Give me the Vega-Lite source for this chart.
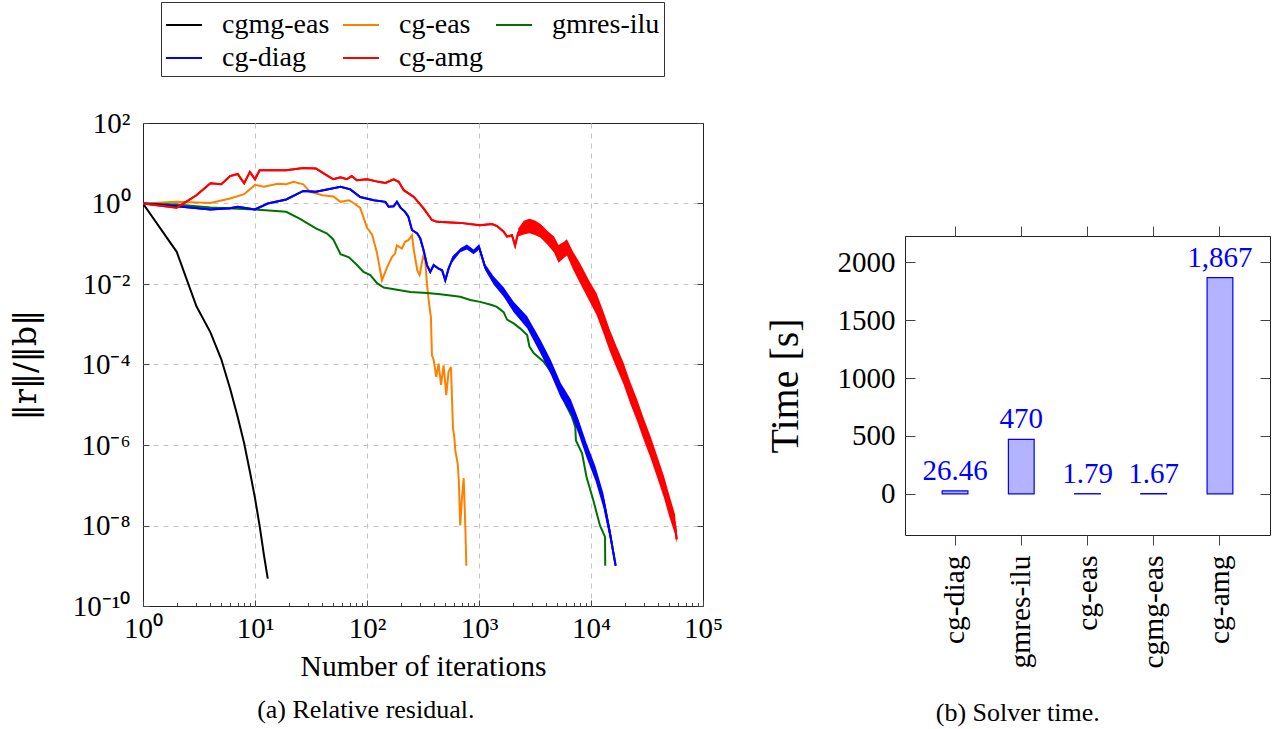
{
  "$schema": "https://vega.github.io/schema/vega-lite/v6.json",
  "autosize": {"type": "none"},
  "padding": {"left": 143, "top": 123, "right": 1142, "bottom": 606},
  "background": "white",
  "spacing": 202,
  "bounds": "flush",
  "config": {
    "font": "Liberation Serif",
    "view": {"stroke": "#222", "strokeWidth": 1},
    "axis": {"labelFont": "Liberation Serif", "titleFont": "Liberation Serif", "labelColor": "#000", "titleColor": "#000", "titleFontWeight": "normal", "domain": false, "tickColor": "#444", "tickWidth": 1, "gridColor": "#c4c4c4", "gridDash": [5, 5], "gridWidth": 1},
    "title": {"font": "Liberation Serif", "fontWeight": "normal", "color": "#000", "fontSize": 26},
    "legend": {"labelFont": "Liberation Serif", "labelColor": "#000"}
  },
  "datasets": {
    "res": [
      {"s":"cgmg-eas","it":1,"r":1},{"s":"cgmg-eas","it":2,"r":0.063},{"s":"cgmg-eas","it":3,"r":0.0028},{"s":"cgmg-eas","it":4,"r":6.3e-4},{"s":"cgmg-eas","it":5,"r":1.35e-4},{"s":"cgmg-eas","it":6,"r":2.5e-5},{"s":"cgmg-eas","it":7,"r":5e-6},{"s":"cgmg-eas","it":8,"r":1.1e-6},{"s":"cgmg-eas","it":9,"r":2.2e-7},{"s":"cgmg-eas","it":10,"r":4.8e-8},{"s":"cgmg-eas","it":11,"r":9.8e-9},{"s":"cgmg-eas","it":12,"r":1.9e-9},{"s":"cgmg-eas","it":13,"r":4.8e-10},
      {"s":"cg-eas","it":1,"r":1},{"s":"cg-eas","it":2,"r":1.1},{"s":"cg-eas","it":4,"r":1.03},{"s":"cg-eas","it":6,"r":1.33},{"s":"cg-eas","it":8,"r":1.7},{"s":"cg-eas","it":10,"r":2.9},{"s":"cg-eas","it":12,"r":2.6},{"s":"cg-eas","it":16,"r":3.1},{"s":"cg-eas","it":19,"r":3.0},{"s":"cg-eas","it":22,"r":3.45},{"s":"cg-eas","it":27,"r":3.0},{"s":"cg-eas","it":31,"r":1.95},{"s":"cg-eas","it":40,"r":1.6},{"s":"cg-eas","it":50,"r":1.5},{"s":"cg-eas","it":58,"r":1.1},{"s":"cg-eas","it":69,"r":1.2},{"s":"cg-eas","it":76,"r":1.03},{"s":"cg-eas","it":87,"r":0.78},{"s":"cg-eas","it":100,"r":0.25},{"s":"cg-eas","it":111,"r":0.17},{"s":"cg-eas","it":123,"r":0.058},{"s":"cg-eas","it":136,"r":0.0124},{"s":"cg-eas","it":151,"r":0.026},{"s":"cg-eas","it":167,"r":0.047},{"s":"cg-eas","it":178,"r":0.057},{"s":"cg-eas","it":185,"r":0.091},{"s":"cg-eas","it":205,"r":0.076},{"s":"cg-eas","it":219,"r":0.112},{"s":"cg-eas","it":234,"r":0.123},{"s":"cg-eas","it":252,"r":0.162},{"s":"cg-eas","it":262,"r":0.069},{"s":"cg-eas","it":281,"r":0.022},{"s":"cg-eas","it":295,"r":0.0166},{"s":"cg-eas","it":316,"r":0.047},{"s":"cg-eas","it":331,"r":0.039},{"s":"cg-eas","it":343,"r":0.0102},{"s":"cg-eas","it":355,"r":0.004},{"s":"cg-eas","it":372,"r":0.0015},{"s":"cg-eas","it":380,"r":1.7e-4},{"s":"cg-eas","it":394,"r":1.3e-4},{"s":"cg-eas","it":415,"r":4.9e-5},{"s":"cg-eas","it":436,"r":1.05e-4},{"s":"cg-eas","it":458,"r":3.1e-5},{"s":"cg-eas","it":483,"r":9.5e-5},{"s":"cg-eas","it":510,"r":1.74e-5},{"s":"cg-eas","it":535,"r":6.6e-5},{"s":"cg-eas","it":562,"r":8.7e-5},{"s":"cg-eas","it":586,"r":2.6e-6},{"s":"cg-eas","it":602,"r":1.6e-6},{"s":"cg-eas","it":614,"r":7.4e-7},{"s":"cg-eas","it":645,"r":3.5e-7},{"s":"cg-eas","it":660,"r":1.35e-7},{"s":"cg-eas","it":680,"r":1.0e-8},{"s":"cg-eas","it":705,"r":5.1e-8},{"s":"cg-eas","it":730,"r":1.5e-7},{"s":"cg-eas","it":755,"r":9.3e-9},{"s":"cg-eas","it":771,"r":1e-9},
      {"s":"gmres-ilu","it":1,"r":1},{"s":"gmres-ilu","it":2,"r":0.94},{"s":"gmres-ilu","it":4,"r":0.8},{"s":"gmres-ilu","it":10,"r":0.71},{"s":"gmres-ilu","it":19,"r":0.62},{"s":"gmres-ilu","it":25,"r":0.42},{"s":"gmres-ilu","it":35,"r":0.24},{"s":"gmres-ilu","it":44,"r":0.18},{"s":"gmres-ilu","it":50,"r":0.128},{"s":"gmres-ilu","it":58,"r":0.055},{"s":"gmres-ilu","it":69,"r":0.046},{"s":"gmres-ilu","it":81,"r":0.03},{"s":"gmres-ilu","it":93,"r":0.02},{"s":"gmres-ilu","it":107,"r":0.0166},{"s":"gmres-ilu","it":123,"r":0.0105},{"s":"gmres-ilu","it":141,"r":0.0082},{"s":"gmres-ilu","it":244,"r":0.0063},{"s":"gmres-ilu","it":344,"r":0.006},{"s":"gmres-ilu","it":452,"r":0.0056},{"s":"gmres-ilu","it":680,"r":0.0048},{"s":"gmres-ilu","it":835,"r":0.004},{"s":"gmres-ilu","it":1025,"r":0.0036},{"s":"gmres-ilu","it":1300,"r":0.003},{"s":"gmres-ilu","it":1445,"r":0.0027},{"s":"gmres-ilu","it":1660,"r":0.002},{"s":"gmres-ilu","it":1780,"r":0.0013},{"s":"gmres-ilu","it":2040,"r":0.00105},{"s":"gmres-ilu","it":2340,"r":0.00078},{"s":"gmres-ilu","it":2690,"r":0.00054},{"s":"gmres-ilu","it":2820,"r":0.00028},{"s":"gmres-ilu","it":3090,"r":0.00019},{"s":"gmres-ilu","it":3800,"r":1.15e-4},{"s":"gmres-ilu","it":5000,"r":4.1e-5},{"s":"gmres-ilu","it":5890,"r":1.07e-5},{"s":"gmres-ilu","it":6760,"r":5e-6},{"s":"gmres-ilu","it":7240,"r":2.8e-6},{"s":"gmres-ilu","it":7330,"r":1.3e-6},{"s":"gmres-ilu","it":8320,"r":6.2e-7},{"s":"gmres-ilu","it":9120,"r":1.6e-7},{"s":"gmres-ilu","it":10470,"r":4.3e-8},{"s":"gmres-ilu","it":12020,"r":1.0e-8},{"s":"gmres-ilu","it":13340,"r":5.2e-9},{"s":"gmres-ilu","it":13400,"r":1e-9},
      {"s":"cg-diag","it":1,"r":1},{"s":"cg-diag","it":2,"r":0.85},{"s":"cg-diag","it":4,"r":0.71},{"s":"cg-diag","it":6,"r":0.76},{"s":"cg-diag","it":7,"r":0.83},{"s":"cg-diag","it":10,"r":0.71},{"s":"cg-diag","it":13,"r":1.0},{"s":"cg-diag","it":19,"r":1.26},{"s":"cg-diag","it":27,"r":2.05},{"s":"cg-diag","it":35,"r":1.95},{"s":"cg-diag","it":44,"r":2.24},{"s":"cg-diag","it":58,"r":2.6},{"s":"cg-diag","it":71,"r":2.24},{"s":"cg-diag","it":87,"r":1.45},{"s":"cg-diag","it":115,"r":1.2},{"s":"cg-diag","it":146,"r":1.1},{"s":"cg-diag","it":156,"r":0.83},{"s":"cg-diag","it":173,"r":0.85},{"s":"cg-diag","it":185,"r":1.1},{"s":"cg-diag","it":199,"r":0.79},{"s":"cg-diag","it":219,"r":0.62},{"s":"cg-diag","it":234,"r":0.47},{"s":"cg-diag","it":252,"r":0.22},{"s":"cg-diag","it":281,"r":0.18},{"s":"cg-diag","it":299,"r":0.135},{"s":"cg-diag","it":320,"r":0.069},{"s":"cg-diag","it":343,"r":0.0295},{"s":"cg-diag","it":367,"r":0.02},{"s":"cg-diag","it":394,"r":0.0295},{"s":"cg-diag","it":436,"r":0.024},{"s":"cg-diag","it":468,"r":0.022},{"s":"cg-diag","it":500,"r":0.0123},{"s":"cg-diag","it":535,"r":0.024},{"s":"cg-diag","it":590,"r":0.047},{"s":"cg-diag","it":680,"r":0.069},{"s":"cg-diag","it":780,"r":0.083},{"s":"cg-diag","it":895,"r":0.063},{"s":"cg-diag","it":1000,"r":0.083},{"s":"cg-diag","it":1135,"r":0.026},{"s":"cg-diag","it":1350,"r":0.0123},{"s":"cg-diag","it":1660,"r":0.0063},{"s":"cg-diag","it":2040,"r":0.0027},{"s":"cg-diag","it":2340,"r":0.002},{"s":"cg-diag","it":2690,"r":0.00112},{"s":"cg-diag","it":2880,"r":8.5e-4},{"s":"cg-diag","it":3550,"r":2.75e-4},{"s":"cg-diag","it":4370,"r":8.7e-5},{"s":"cg-diag","it":5370,"r":2.3e-5},{"s":"cg-diag","it":6610,"r":8.9e-6},{"s":"cg-diag","it":7760,"r":2.8e-6},{"s":"cg-diag","it":9120,"r":7.4e-7},{"s":"cg-diag","it":10960,"r":1.95e-7},{"s":"cg-diag","it":12880,"r":4.3e-8},{"s":"cg-diag","it":14790,"r":6.3e-9},{"s":"cg-diag","it":16600,"r":1e-9},
      {"s":"cg-amg","it":1,"r":1},{"s":"cg-amg","it":2,"r":0.79},{"s":"cg-amg","it":3,"r":1.6},{"s":"cg-amg","it":4,"r":3.2},{"s":"cg-amg","it":5,"r":3.0},{"s":"cg-amg","it":6,"r":4.8},{"s":"cg-amg","it":7,"r":5.4},{"s":"cg-amg","it":8,"r":3.16},{"s":"cg-amg","it":9,"r":6.1},{"s":"cg-amg","it":10,"r":4.0},{"s":"cg-amg","it":11,"r":6.7},{"s":"cg-amg","it":19,"r":6.7},{"s":"cg-amg","it":27,"r":7.6},{"s":"cg-amg","it":35,"r":7.4},{"s":"cg-amg","it":41,"r":5.6},{"s":"cg-amg","it":50,"r":4.0},{"s":"cg-amg","it":58,"r":4.5},{"s":"cg-amg","it":66,"r":4.0},{"s":"cg-amg","it":73,"r":4.8},{"s":"cg-amg","it":81,"r":3.8},{"s":"cg-amg","it":100,"r":4.0},{"s":"cg-amg","it":127,"r":3.45},{"s":"cg-amg","it":146,"r":3.25},{"s":"cg-amg","it":173,"r":4.0},{"s":"cg-amg","it":192,"r":3.45},{"s":"cg-amg","it":213,"r":2.14},{"s":"cg-amg","it":262,"r":1.46},{"s":"cg-amg","it":320,"r":0.76},{"s":"cg-amg","it":380,"r":0.39},{"s":"cg-amg","it":422,"r":0.35},{"s":"cg-amg","it":680,"r":0.33},{"s":"cg-amg","it":1020,"r":0.29},{"s":"cg-amg","it":1306,"r":0.31},{"s":"cg-amg","it":1450,"r":0.275},{"s":"cg-amg","it":1660,"r":0.2},{"s":"cg-amg","it":1780,"r":0.15},{"s":"cg-amg","it":1970,"r":0.163},{"s":"cg-amg","it":2100,"r":0.09},{"s":"cg-amg","it":2240,"r":0.19},{"s":"cg-amg","it":2512,"r":0.25},{"s":"cg-amg","it":2818,"r":0.275},{"s":"cg-amg","it":3162,"r":0.25},{"s":"cg-amg","it":3548,"r":0.21},{"s":"cg-amg","it":4074,"r":0.141},{"s":"cg-amg","it":4677,"r":0.095},{"s":"cg-amg","it":5129,"r":0.056},{"s":"cg-amg","it":5690,"r":0.069},{"s":"cg-amg","it":6095,"r":0.081},{"s":"cg-amg","it":6918,"r":0.038},{"s":"cg-amg","it":7943,"r":0.019},{"s":"cg-amg","it":9772,"r":0.0063},{"s":"cg-amg","it":11220,"r":0.0032},{"s":"cg-amg","it":12880,"r":0.00112},{"s":"cg-amg","it":14790,"r":3.8e-4},{"s":"cg-amg","it":16980,"r":1.48e-4},{"s":"cg-amg","it":19500,"r":6.0e-5},{"s":"cg-amg","it":22390,"r":2.0e-5},{"s":"cg-amg","it":25700,"r":7.6e-6},{"s":"cg-amg","it":29510,"r":2.5e-6},{"s":"cg-amg","it":33880,"r":9.1e-7},{"s":"cg-amg","it":38900,"r":2.95e-7},{"s":"cg-amg","it":44670,"r":9.3e-8},{"s":"cg-amg","it":50120,"r":3.0e-8},{"s":"cg-amg","it":56230,"r":1.07e-8},{"s":"cg-amg","it":58210,"r":4.5e-9}
    ],
    "band": [
      {"s":"cg-diag","it":562,"r":0.0313,"r2":0.0359},{"s":"cg-diag","it":680,"r":0.0617,"r2":0.0776},{"s":"cg-diag","it":780,"r":0.0724,"r2":0.0955},{"s":"cg-diag","it":895,"r":0.055,"r2":0.0724},{"s":"cg-diag","it":1000,"r":0.0708,"r2":0.0977},{"s":"cg-diag","it":1135,"r":0.0219,"r2":0.0316},{"s":"cg-diag","it":1350,"r":0.00977,"r2":0.0155},{"s":"cg-diag","it":1660,"r":0.00479,"r2":0.00832},{"s":"cg-diag","it":2040,"r":0.002,"r2":0.00363},{"s":"cg-diag","it":2690,"r":7.94e-4,"r2":1.585e-3},{"s":"cg-diag","it":3550,"r":1.86e-4,"r2":4.07e-4},{"s":"cg-diag","it":4370,"r":5.75e-5,"r2":1.32e-4},{"s":"cg-diag","it":5370,"r":1.51e-5,"r2":3.47e-5},{"s":"cg-diag","it":6610,"r":5.89e-6,"r2":1.35e-5},{"s":"cg-diag","it":7760,"r":1.86e-6,"r2":4.27e-6},{"s":"cg-diag","it":9120,"r":4.9e-7,"r2":1.12e-6},{"s":"cg-diag","it":10960,"r":1.29e-7,"r2":2.95e-7},{"s":"cg-diag","it":12880,"r":2.82e-8,"r2":6.46e-8},{"s":"cg-diag","it":14790,"r":4.47e-9,"r2":8.9e-9},{"s":"cg-diag","it":16220,"r":1.12e-9,"r2":1.78e-9},
      {"s":"cg-amg","it":2240,"r":0.151,"r2":0.24},{"s":"cg-amg","it":2512,"r":0.17,"r2":0.372},{"s":"cg-amg","it":2818,"r":0.182,"r2":0.417},{"s":"cg-amg","it":3162,"r":0.166,"r2":0.38},{"s":"cg-amg","it":3548,"r":0.141,"r2":0.309},{"s":"cg-amg","it":4074,"r":0.0955,"r2":0.209},{"s":"cg-amg","it":4677,"r":0.0603,"r2":0.151},{"s":"cg-amg","it":5129,"r":0.0339,"r2":0.0933},{"s":"cg-amg","it":5690,"r":0.0437,"r2":0.11},{"s":"cg-amg","it":6095,"r":0.0513,"r2":0.129},{"s":"cg-amg","it":6918,"r":0.0229,"r2":0.063},{"s":"cg-amg","it":7943,"r":0.0107,"r2":0.0339},{"s":"cg-amg","it":9772,"r":0.00355,"r2":0.0112},{"s":"cg-amg","it":11220,"r":0.0017,"r2":0.00589},{"s":"cg-amg","it":12880,"r":6.03e-4,"r2":2.09e-3},{"s":"cg-amg","it":14790,"r":2.04e-4,"r2":7.08e-4},{"s":"cg-amg","it":16980,"r":7.94e-5,"r2":2.75e-4},{"s":"cg-amg","it":19500,"r":3.24e-5,"r2":1.12e-4},{"s":"cg-amg","it":22390,"r":1.07e-5,"r2":3.72e-5},{"s":"cg-amg","it":25700,"r":4.07e-6,"r2":1.41e-5},{"s":"cg-amg","it":29510,"r":1.35e-6,"r2":4.68e-6},{"s":"cg-amg","it":33880,"r":4.9e-7,"r2":1.7e-6},{"s":"cg-amg","it":38900,"r":1.58e-7,"r2":5.5e-7},{"s":"cg-amg","it":44670,"r":5.0e-8,"r2":1.74e-7},{"s":"cg-amg","it":50120,"r":1.62e-8,"r2":5.62e-8},{"s":"cg-amg","it":56230,"r":6.03e-9,"r2":1.9e-8},{"s":"cg-amg","it":58210,"r":3.55e-9,"r2":5.62e-9}
    ],
    "time": [
      {"solver":"cg-diag","t":26.46},{"solver":"gmres-ilu","t":470},{"solver":"cg-eas","t":1.79},{"solver":"cgmg-eas","t":1.67},{"solver":"cg-amg","t":1867}
    ]
  },
  "hconcat": [
    {
      "width": 560,
      "height": 483,
      "title": {"text": "(a) Relative residual.", "orient": "bottom", "frame": "bounds", "anchor": "middle", "offset": 16},
      "data": {"name": "res"},
      "encoding": {
        "color": {
          "field": "s", "type": "nominal",
          "scale": {"domain": ["cgmg-eas", "cg-eas", "gmres-ilu", "cg-diag", "cg-amg"], "range": ["#000000", "#ff8000", "#007000", "#0000ff", "#ff0000"]},
          "legend": {"orient": "none", "legendX": 18, "legendY": -121, "direction": "horizontal", "columns": 3, "title": null, "strokeColor": "#333", "fillColor": "white", "padding": 4, "symbolType": "stroke", "symbolSize": 1296, "symbolStrokeWidth": 2, "labelFont": "Liberation Serif", "labelFontSize": 28, "labelOffset": 19, "columnPadding": 9, "rowPadding": -7, "labelLimit": 0}
        }
      },
      "layer": [
        {
          "mark": {"type": "line", "strokeWidth": 2, "clip": true},
          "encoding": {
            "x": {
              "field": "it", "type": "quantitative",
              "scale": {"type": "log", "domain": [1, 100000], "nice": false},
              "axis": {
                "orient": "bottom",
                "title": "Number of iterations", "titleFont": "Liberation Serif", "titleFontSize": 29.5, "titleY": 69, "titleBaseline": "alphabetic",
                "values": [1,2,3,4,5,6,7,8,9,10,20,30,40,50,60,70,80,90,100,200,300,400,500,600,700,800,900,1000,2000,3000,4000,5000,6000,7000,8000,9000,10000,20000,30000,40000,50000,60000,70000,80000,90000,100000],
                "labelExpr": "abs(log(datum.value)/LN10 - round(log(datum.value)/LN10)) > 0.001 ? '' : datum.value < 5 ? '10⁰' : datum.value < 50 ? '10¹' : datum.value < 500 ? '10²' : datum.value < 5000 ? '10³' : datum.value < 50000 ? '10⁴' : '10⁵'",
                "labelFont": "Liberation Serif", "labelFontSize": 29, "labelPadding": 8, "labelFlush": false, "labelOverlap": false,
                "ticks": false,
                "grid": true,
                "gridOpacity": {"condition": {"test": "abs(log(datum.value)/LN10 - round(log(datum.value)/LN10)) < 0.001 && datum.value > 1.5 && datum.value < 50000", "value": 1}, "value": 0}
              }
            },
            "y": {
              "field": "r", "type": "quantitative",
              "scale": {"type": "log", "domain": [1e-10, 100], "nice": false},
              "axis": {
                "orient": "left",
                "title": "‖r‖/‖b‖", "titleFont": "DejaVu Serif", "titleFontSize": 32, "titleX": -108, "titleBaseline": "alphabetic",
                "values": [100, 1, 0.01, 0.0001, 0.000001, 0.00000001, 0.0000000001],
                "labelExpr": "datum.value > 10 ? '10²' : datum.value > 0.1 ? '10⁰' : datum.value > 1e-3 ? '10⁻²' : datum.value > 1e-5 ? '10⁻⁴' : datum.value > 1e-7 ? '10⁻⁶' : datum.value > 1e-9 ? '10⁻⁸' : '10⁻¹⁰'",
                "labelFont": "Liberation Serif", "labelFontSize": 29, "labelPadding": 13,
                "ticks": false,
                "grid": true,
                "gridOpacity": {"condition": {"test": "datum.value < 50 && datum.value > 1e-9", "value": 1}, "value": 0}
              }
            }
          }
        },
        {
          "data": {"name": "band"},
          "mark": {"type": "area", "opacity": 1, "clip": true},
          "encoding": {
            "x": {"field": "it", "type": "quantitative", "scale": {"type": "log", "domain": [1, 100000], "nice": false}, "axis": null},
            "y": {"field": "r", "type": "quantitative", "scale": {"type": "log", "domain": [1e-10, 100], "nice": false},
              "axis": {"orient": "right", "title": null, "labels": false, "values": [100, 1, 0.01, 0.0001, 0.000001, 0.00000001, 0.0000000001], "tickSize": -6, "grid": false}},
            "y2": {"field": "r2"}
          }
        },
        {
          "transform": [{"filter": {"field": "s", "oneOf": ["cg-diag", "cg-amg"]}}],
          "mark": {"type": "line", "strokeWidth": 2, "clip": true},
          "encoding": {
            "x": {"field": "it", "type": "quantitative", "scale": {"type": "log", "domain": [1, 100000], "nice": false},
              "axis": {"orient": "bottom", "title": null, "labels": false, "grid": false,
                "values": [1,2,3,4,5,6,7,8,9,10,20,30,40,50,60,70,80,90,100,200,300,400,500,600,700,800,900,1000,2000,3000,4000,5000,6000,7000,8000,9000,10000,20000,30000,40000,50000,60000,70000,80000,90000,100000],
                "tickSize": {"condition": {"test": "abs(log(datum.value)/LN10 - round(log(datum.value)/LN10)) < 0.001", "value": -6}, "value": -3.5}}},
            "y": {"field": "r", "type": "quantitative", "scale": {"type": "log", "domain": [1e-10, 100], "nice": false},
              "axis": {"orient": "left", "title": null, "labels": false, "grid": false, "values": [100, 1, 0.01, 0.0001, 0.000001, 0.00000001, 0.0000000001], "tickSize": -6}}
          }
        }
      ],
      "resolve": {"axis": {"x": "independent", "y": "independent"}}
    },
    {
      "vconcat": [
        {
          "width": 10, "height": 93,
          "view": {"stroke": null},
          "data": {"values": [{"a": 1}]},
          "mark": {"type": "point", "opacity": 0},
          "encoding": {}
        },
        {
          "width": 365, "height": 299,
          "title": {"text": "(b) Solver time.", "orient": "bottom", "frame": "bounds", "anchor": "middle", "offset": 32},
          "data": {"name": "time"},
          "layer": [
            {
              "mark": {"type": "bar", "fill": "#b3b3ff", "stroke": "#0000ff", "strokeWidth": 1.2},
              "encoding": {
                "x": {"field": "solver", "type": "nominal", "sort": null, "scale": {"paddingInner": 0.611, "paddingOuter": 0.561},
                  "axis": {"title": null, "orient": "bottom", "labelAngle": -90, "labelFont": "Liberation Serif", "labelFontSize": 29.5, "labelPadding": 10, "tickSize": 10, "grid": false}},
                "y": {"field": "t", "type": "quantitative", "scale": {"domain": [-355, 2226], "nice": false},
                  "axis": {"orient": "left", "title": "Time [s]", "titleFont": "Liberation Serif", "titleFontSize": 40, "titleX": -108, "titleBaseline": "alphabetic", "values": [0, 500, 1000, 1500, 2000], "format": "d", "labelFont": "Liberation Serif", "labelFontSize": 29, "labelPadding": 10, "ticks": false, "grid": false}},
                "y2": {"datum": 0}
              }
            },
            {
              "mark": {"type": "text", "color": "#0000ff", "font": "Liberation Serif", "fontSize": 29, "dy": -11, "baseline": "alphabetic"},
              "encoding": {
                "x": {"field": "solver", "type": "nominal", "sort": null,
                  "axis": {"title": null, "orient": "top", "labels": false, "tickSize": 10, "grid": false}},
                "y": {"field": "t", "type": "quantitative",
                  "axis": {"title": null, "orient": "right", "labels": false, "values": [0, 500, 1000, 1500, 2000], "tickSize": -10, "grid": false}},
                "text": {"field": "t", "type": "quantitative", "format": ",.4~r"}
              }
            },
            {
              "mark": {"type": "point", "opacity": 0},
              "encoding": {
                "x": {"field": "solver", "type": "nominal", "sort": null, "axis": null},
                "y": {"field": "t", "type": "quantitative",
                  "axis": {"title": null, "orient": "left", "labels": false, "values": [0, 500, 1000, 1500, 2000], "tickSize": -10, "grid": false}}
              }
            }
          ],
          "resolve": {"axis": {"x": "independent", "y": "independent"}}
        }
      ],
      "spacing": 20,
      "bounds": "flush"
    }
  ]
}
